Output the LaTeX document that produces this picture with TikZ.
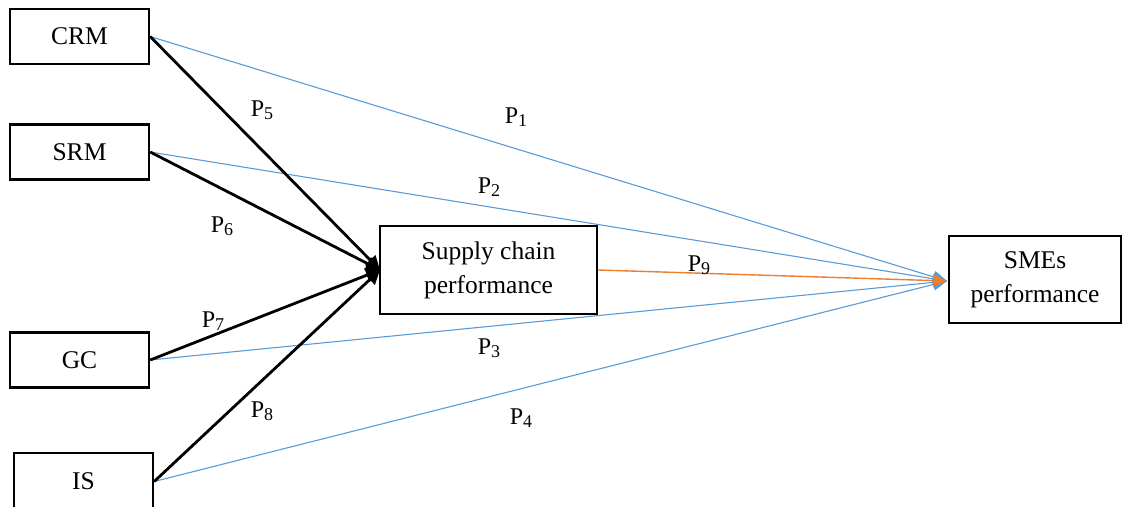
\documentclass[tikz,border=0pt]{standalone}
\usepackage{fontspec}
\setmainfont{Liberation Serif}
\usetikzlibrary{arrows.meta}
\definecolor{lblue}{HTML}{5B9BD5}
\definecolor{lorange}{HTML}{ED7D31}
\begin{document}
\begin{tikzpicture}[x=1pt,y=-1pt,
  box/.style={draw,line width=2.4pt,minimum width=139pt,minimum height=55pt,inner sep=0pt,align=center,font=\fontsize{25.5}{34}\selectfont},
  bline/.style={line width=2.8pt,-{Triangle[length=14pt,width=14pt]}},
  uline/.style={lblue,line width=1.1pt,-{Triangle[length=14pt,width=12pt]}},
  oline/.style={lorange,line width=1.4pt,-{Triangle[length=14pt,width=12pt]}},
  plab/.style={font=\fontsize{24}{28}\selectfont,inner sep=0pt}]
\useasboundingbox (0,0) rectangle (1124,506);
\node[box] (crm) at (79.5,36.5) {CRM};
\node[box] (srm) at (79.5,152) {SRM};
\node[box] (gc) at (79.5,360) {GC};
\node[box,minimum height=57pt] (is) at (83.5,481.5) {IS};
\node[box,minimum width=217pt,minimum height=88pt] (sc) at (488.5,270) {Supply chain\\performance};
\node[box,minimum width=172pt,minimum height=87pt] (sme) at (1035,279.5) {SMEs\\performance};
\coordinate (tip) at (947,281);
\coordinate (sctip) at (380,270);
% blue
\draw[uline] (crm.east) -- (tip);
\draw[uline] (srm.east) -- (tip);
\draw[uline] (gc.east) -- (tip);
\draw[uline] (is.east) -- (tip);
\draw[oline] (sc.east) -- (tip);
% black
\draw[bline] (crm.east) -- (sctip);
\draw[bline] (srm.east) -- (sctip);
\draw[bline] (gc.east) -- (sctip);
\draw[bline] (is.east) -- (sctip);
% labels
\newcommand{\plb}[1]{P\raisebox{-0.3ex}{\fontsize{18}{18}\selectfont #1}}
\node[plab] (p5) at (262,110) {\plb{5}};
\node[plab] (p1) at (516,117) {\plb{1}};
\node[plab] (p2) at (489,187) {\plb{2}};
\node[plab] (p6) at (222,226) {\plb{6}};
\node[plab] (p9) at (699,265) {\plb{9}};
\node[plab] (p7) at (213,321) {\plb{7}};
\node[plab] (p3) at (489,348) {\plb{3}};
\node[plab] (p8) at (262,411) {\plb{8}};
\node[plab] (p4) at (521,418) {\plb{4}};
\end{tikzpicture}
\end{document}
